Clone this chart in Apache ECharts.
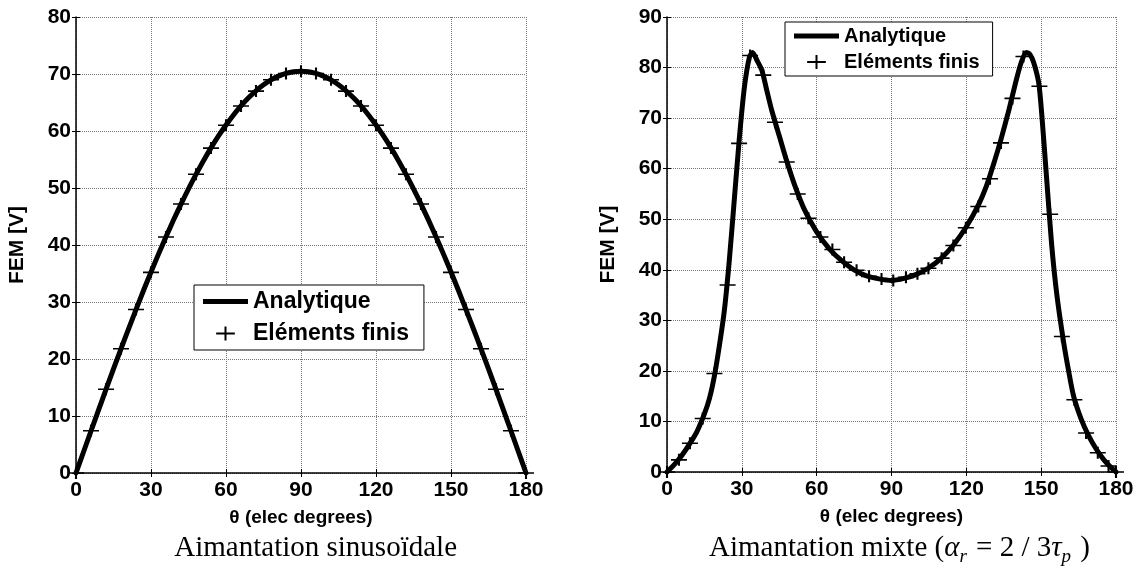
<!DOCTYPE html>
<html>
<head>
<meta charset="utf-8">
<script src="https://cdn.jsdelivr.net/npm/echarts@6/dist/echarts.min.js"></script>
<style>
html,body{margin:0;padding:0;background:#fff;}
#c{width:1144px;height:570px;}
</style>
</head>
<body>
<div id="c"></div>
<script>
// ---------- DATA ----------
const seriesNames = ['Analytique', 'Eléments finis'];
const xTicks = [0, 30, 60, 90, 120, 150, 180];
const captionLeft = 'Aimantation sinusoïdale';
const captionRight = 'Aimantation mixte';

// Left chart (sinusoidal magnetisation)
const sinLineX = [0,3,6,9,12,15,18,21,24,27,30,33,36,39,42,45,48,51,54,57,60,63,66,69,72,75,78,81,84,87,90,
  93,96,99,102,105,108,111,114,117,120,123,126,129,132,135,138,141,144,147,150,153,156,159,162,165,168,171,174,177,180];
const sinLineY = [0,3.69,7.37,11.03,14.66,18.25,21.79,25.26,28.67,32.01,35.25,38.40,41.44,44.37,47.17,49.85,52.39,54.79,57.04,59.13,61.05,62.82,64.41,65.82,67.05,68.10,68.96,69.63,70.11,70.40,70.50,
  70.40,70.11,69.63,68.96,68.10,67.05,65.82,64.41,62.82,61.05,59.13,57.04,54.79,52.39,49.85,47.17,44.37,41.44,38.40,35.25,32.01,28.67,25.26,21.79,18.25,14.66,11.03,7.37,3.69,0];
const sinFeX = [0,6,12,18,24,30,36,42,48,54,60,66,72,78,84,90,96,102,108,114,120,126,132,138,144,150,156,162,168,174,180];
const sinFeY = [0,7.4,14.7,21.8,28.7,35.2,41.4,47.2,52.4,57.0,61.0,64.4,67.0,69.0,70.1,70.5,70.1,69.0,67.0,64.4,61.0,57.0,52.4,47.2,41.4,35.2,28.7,21.8,14.7,7.4,0];

// Right chart (mixed magnetisation)
const mixLineX = [0,3,6,9,12,15,17,19,21,23,25,27,29,31,33,34.3,36,38,40,42,45,48,51,55,60,65,70,75,80,85,90,
  95,100,105,110,115,120,125,128,131,134,137,140,142,144,145.5,147,149,150.2,152.2,154.2,156.3,158.9,161,163,166,169,172,175,178,180];
const mixLineY = [0,1.5,3.3,5.5,8.0,11.5,14.5,19,25,32,42,54,66,76,82,83,81.5,79.5,75.5,71.5,66.5,61.5,57,52,47.5,44.2,41.8,40,38.8,38.2,37.9,
  38.3,39.1,40.4,42.3,45,48.5,53,56.5,61,66,71.5,77.5,81,83,82.6,81,77,71,58,45,35,26,20,15,10.5,7.2,4.6,2.5,0.9,0];
const mixFeX = [0,4.8,9.2,14.3,19.0,24.3,28.9,33.3,38.6,43.3,48.0,52.4,56.7,61.5,66.3,71.0,76.0,81.0,86.0,90.7,95.8,100.4,104.8,110.1,
  114.8,119.8,124.8,129.5,133.9,138.5,142.9,149.3,153.6,158.3,163.3,168.0,172.7,177.0,180];
const mixFeY = [0,2.4,5.7,10.6,19.5,37.0,65.0,82.4,78.5,69.2,61.3,55.0,50.2,46.5,44.0,41.5,39.9,38.7,38.2,37.9,38.5,39.2,40.3,42.3,
  44.8,48.3,52.5,58.0,65.1,73.9,82.2,76.3,51.0,26.8,14.3,7.7,3.8,1.2,0];

// ---------- BUILD ----------
const pairs = (xs, ys) => xs.map((x, i) => [x, ys[i]]);
const SANS = '"Liberation Sans", Arial, sans-serif';
const SERIF = '"Liberation Serif", "Times New Roman", serif';
const PLUS = 'path://M0,6L16,6M8,0L8,12';
const LINE_ICON = 'path://M0,0L45,0L45,5L0,5Z';

const grids = [
  {left: 76, top: 17, width: 450, height: 456},
  {left: 667, top: 17, width: 449, height: 455}
];

function xAx(g) {
  return {
    type: 'value', gridIndex: g, min: 0, max: 180, interval: 30,
    name: 'θ (elec degrees)', nameLocation: 'middle', nameGap: 35,
    nameTextStyle: {fontFamily: SANS, fontWeight: 'bold', fontSize: 19, color: '#000'},
    axisLine: {show: true, onZero: false, lineStyle: {color: '#000', width: 1.5}},
    axisTick: {show: true, inside: true, length: 4, lineStyle: {color: '#000'}},
    axisLabel: {fontFamily: SANS, fontWeight: 'bold', fontSize: 21, color: '#000', margin: 7},
    splitLine: {show: true, lineStyle: {color: '#777', type: [1, 1], width: 1}}
  };
}
function xTop(g) {
  return {
    type: 'value', gridIndex: g, min: 0, max: 180, interval: 30, position: 'top',
    axisLine: {show: false}, axisLabel: {show: false}, splitLine: {show: false},
    axisTick: {show: true, inside: true, length: 4, lineStyle: {color: '#000'}}
  };
}
function yAx(g, max) {
  return {
    type: 'value', gridIndex: g, min: 0, max: max, interval: 10,
    name: 'FEM [V]', nameLocation: 'middle', nameGap: 48, nameRotate: 90,
    nameTextStyle: {fontFamily: SANS, fontWeight: 'bold', fontSize: 21, color: '#000'},
    axisLine: {show: true, onZero: false, lineStyle: {color: '#000', width: 1.5}},
    axisTick: {show: true, inside: true, length: 4, lineStyle: {color: '#000'}},
    axisLabel: {fontFamily: SANS, fontWeight: 'bold', fontSize: 21, color: '#000', margin: 5},
    splitLine: {show: true, lineStyle: {color: '#777', type: [1, 1], width: 1}}
  };
}
function yRight(g, max) {
  return {
    type: 'value', gridIndex: g, min: 0, max: max, interval: 10, position: 'right',
    axisLine: {show: false}, axisLabel: {show: false}, splitLine: {show: false},
    axisTick: {show: true, inside: true, length: 4, lineStyle: {color: '#000'}}
  };
}

function lineSeries(xi, yi, data) {
  return {
    name: seriesNames[0], type: 'line', xAxisIndex: xi, yAxisIndex: yi,
    data: data, showSymbol: false, symbol: 'none', smooth: 0.25,
    lineStyle: {color: '#000', width: 5, cap: 'round', join: 'round'},
    itemStyle: {color: '#000'}, z: 2, silent: true
  };
}
function feSeries(xi, yi, data) {
  return {
    name: seriesNames[1], type: 'scatter', xAxisIndex: xi, yAxisIndex: yi,
    data: data, symbol: PLUS, symbolSize: [16, 12], symbolKeepAspect: false,
    itemStyle: {color: 'none', borderColor: '#000', borderWidth: 1.8, opacity: 1}, z: 3, silent: true
  };
}

const legendData = [
  {name: seriesNames[0], icon: LINE_ICON, itemStyle: {color: '#000', borderWidth: 0}},
  {name: seriesNames[1]}
];
const legendBase = {
  orient: 'vertical', itemWidth: 45, itemHeight: 14,
  backgroundColor: '#fff', borderColor: '#000', borderWidth: 1, borderRadius: 0,
  selectedMode: false, data: legendData
};

const option = {
  animation: false,
  backgroundColor: '#fff',
  grid: grids,
  xAxis: [xAx(0), xAx(1), xTop(0), xTop(1)],
  yAxis: [yAx(0, 80), yAx(1, 90), yRight(0, 80), yRight(1, 90)],
  legend: [
    Object.assign({}, legendBase, {left: 194, top: 285, padding: [5, 15, 5, 9], itemGap: 9,
      textStyle: {fontFamily: SANS, fontWeight: 'bold', fontSize: 23, color: '#000'}}),
    Object.assign({}, legendBase, {left: 785, top: 22, padding: [4, 13, 4, 9], itemGap: 6,
      textStyle: {fontFamily: SANS, fontWeight: 'bold', fontSize: 20, color: '#000'}})
  ],
  series: [
    lineSeries(0, 0, pairs(sinLineX, sinLineY)),
    feSeries(0, 0, pairs(sinFeX, sinFeY)),
    lineSeries(1, 1, pairs(mixLineX, mixLineY)),
    feSeries(1, 1, pairs(mixFeX, mixFeY))
  ],
  graphic: [
    {type: 'text', x: 457, y: 548, style: {text: captionLeft, font: '29px ' + SERIF, fill: '#000', align: 'right', verticalAlign: 'middle'}},
    {type: 'text', x: 1090, y: 548, style: {
      text: '{n|' + captionRight + ' (}{i|α}{s|r}{n| = 2 / 3}{i|τ}{s|p}{n| )}',
      align: 'right', verticalAlign: 'middle', fill: '#000',
      rich: {
        n: {fontFamily: SERIF, fontSize: 29, lineHeight: 36, fill: '#000', verticalAlign: 'middle'},
        i: {fontFamily: SERIF, fontSize: 29, fontStyle: 'italic', lineHeight: 36, fill: '#000', verticalAlign: 'middle'},
        s: {fontFamily: SERIF, fontSize: 19, fontStyle: 'italic', lineHeight: 36, fill: '#000', verticalAlign: 'bottom', padding: [0, 2, 0, 0]}
      }
    }}
  ]
};

const chart = echarts.init(document.getElementById('c'), null, {renderer: 'canvas'});
chart.setOption(option);
</script>
</body>
</html>
